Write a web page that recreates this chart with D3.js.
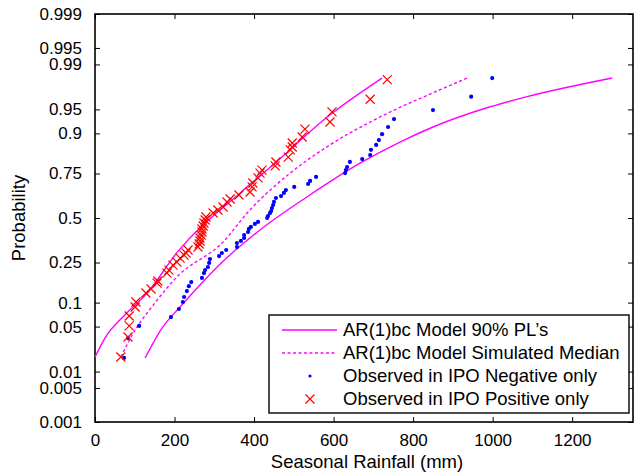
<!DOCTYPE html>
<html>
<head>
<meta charset="utf-8">
<script src="https://cdn.jsdelivr.net/npm/d3@7"></script>
<style>
  html, body { margin: 0; padding: 0; background: #fff; }
  svg { display: block; }
  text { font-family: "Liberation Sans", Arial, Helvetica, sans-serif; fill: #000; }
</style>
</head>
<body>
<div id="chart"></div>
<script>
// ---------------- DATA ----------------
const rainfallTicks = [0, 200, 400, 600, 800, 1000, 1200];
const probTicks = [0.001, 0.005, 0.01, 0.05, 0.1, 0.25, 0.5, 0.75, 0.9, 0.95, 0.99, 0.995, 0.999];
const probTickLabels = ["0.001", "0.005", "0.01", "0.05", "0.1", "0.25", "0.5", "0.75", "0.9", "0.95", "0.99", "0.995", "0.999"];

// AR(1)bc Model 90% prediction limits (upper-left and lower-right curves)
const upperPLRain = [0, 25, 75, 131, 209, 365, 453, 591, 722];
const upperPLProb = [0.0176, 0.0345, 0.071, 0.128, 0.308, 0.648, 0.798, 0.941, 0.983];
const lowerPLRain = [126, 169, 214, 264, 320, 415, 533, 672, 767, 850, 994, 1087, 1301];
const lowerPLProb = [0.017, 0.048, 0.089, 0.155, 0.252, 0.428, 0.625, 0.802, 0.875, 0.916, 0.954, 0.967, 0.983];

// AR(1)bc Model simulated median
const medianRain = [65, 101, 143, 206, 322, 387, 491, 591, 717, 868, 936];
const medianProb = [0.0176, 0.045, 0.089, 0.186, 0.358, 0.542, 0.752, 0.866, 0.937, 0.974, 0.983];

// Observed in IPO Negative only (blue dots)
const negRain = [73, 83, 111, 191, 211, 221, 224, 231, 236, 242, 269, 274, 277, 284, 287, 289, 312, 319, 330, 357,
  357, 367, 375, 375, 385, 387, 392, 402, 410, 433, 435, 440, 443, 445, 448, 450, 455, 468, 475, 480,
  501, 536, 541, 556, 629, 631, 634, 641, 672, 692, 694, 707, 714, 722, 737, 752, 850, 946, 999];
const negProb = [0.017, 0.0345, 0.051, 0.0668, 0.084, 0.1016, 0.1157, 0.134, 0.151, 0.166, 0.182, 0.202, 0.215, 0.229, 0.248, 0.267, 0.282, 0.298, 0.314, 0.330,
  0.352, 0.364, 0.381, 0.398, 0.416, 0.434, 0.446, 0.464, 0.476, 0.500, 0.512, 0.530, 0.542, 0.560, 0.578, 0.596, 0.619, 0.630, 0.648, 0.664,
  0.681, 0.697, 0.713, 0.733, 0.752, 0.766, 0.780, 0.802, 0.814, 0.830, 0.849, 0.866, 0.881, 0.898, 0.916, 0.933, 0.949, 0.967, 0.983];

// Observed in IPO Positive only (red crosses)
const posRain = [65, 83, 86, 86, 101, 103, 128, 141, 156, 158, 181, 186, 196, 206, 214, 224, 229, 234, 259, 262,
  264, 264, 267, 269, 269, 272, 274, 277, 279, 297, 309, 322, 332, 340, 362, 390, 395, 397, 410, 415,
  420, 453, 455, 486, 491, 496, 496, 521, 528, 591, 596, 692, 735];
const posProb = [0.0176, 0.0357, 0.051, 0.0688, 0.0888, 0.1016, 0.128, 0.141, 0.162, 0.170, 0.202, 0.215, 0.238, 0.252, 0.272, 0.287, 0.298, 0.314, 0.330, 0.347,
  0.364, 0.381, 0.398, 0.416, 0.434, 0.452, 0.470, 0.488, 0.506, 0.530, 0.548, 0.566, 0.596, 0.613, 0.636, 0.653, 0.681, 0.702, 0.728, 0.752,
  0.766, 0.785, 0.802, 0.822, 0.849, 0.859, 0.872, 0.890, 0.911, 0.927, 0.946, 0.964, 0.982];

const legendLabels = ["AR(1)bc Model 90% PL\u2019s", "AR(1)bc Model Simulated Median", "Observed in IPO Negative only", "Observed in IPO Positive only"];

// ---------------- HELPERS ----------------
// inverse standard normal CDF (Acklam)
function probit(p) {
  const a = [-3.969683028665376e+01, 2.209460984245205e+02, -2.759285104469687e+02, 1.383577518672690e+02, -3.066479806614716e+01, 2.506628277459239e+00];
  const b = [-5.447609879822406e+01, 1.615858368580409e+02, -1.556989798598866e+02, 6.680131188771972e+01, -1.328068155288572e+01];
  const c = [-7.784894002430293e-03, -3.223964580411365e-01, -2.400758277161838e+00, -2.549732539343734e+00, 4.374664141464968e+00, 2.938163982698783e+00];
  const d = [7.784695709041462e-03, 3.224671290700398e-01, 2.445134137142996e+00, 3.754408661907416e+00];
  const pl = 0.02425, ph = 1 - pl;
  let q, r;
  if (p < pl) {
    q = Math.sqrt(-2 * Math.log(p));
    return (((((c[0]*q+c[1])*q+c[2])*q+c[3])*q+c[4])*q+c[5]) / ((((d[0]*q+d[1])*q+d[2])*q+d[3])*q+1);
  } else if (p <= ph) {
    q = p - 0.5; r = q*q;
    return (((((a[0]*r+a[1])*r+a[2])*r+a[3])*r+a[4])*r+a[5])*q / (((((b[0]*r+b[1])*r+b[2])*r+b[3])*r+b[4])*r+1);
  } else {
    q = Math.sqrt(-2 * Math.log(1 - p));
    return -(((((c[0]*q+c[1])*q+c[2])*q+c[3])*q+c[4])*q+c[5]) / ((((d[0]*q+d[1])*q+d[2])*q+d[3])*q+1);
  }
}
const zip = (xs, ps) => xs.map((x, i) => ({ x, p: ps[i] }));

// ---------------- CHART ----------------
const W = 634, H = 473;
const plot = { left: 95, right: 633, top: 14, bottom: 422 };
const MAGENTA = "#ff00ff";

const svg = d3.select("#chart").append("svg").attr("width", W).attr("height", H);
svg.append("rect").attr("width", W).attr("height", H).attr("fill", "#fff");

const x = d3.scaleLinear().domain([0, 1353]).range([plot.left, plot.right]);
const zScale = d3.scaleLinear().domain([probit(0.001), probit(0.999)]).range([plot.bottom, plot.top]);
const y = p => zScale(probit(p));

const fontTick = 17;

// Axes (bottom / left with labels, top / right mirror ticks)
const tickLen = 5;
const xAxis = d3.axisBottom(x).tickValues(rainfallTicks).tickFormat(d3.format("d")).tickSizeInner(-tickLen).tickSizeOuter(0).tickPadding(12);
const gx = svg.append("g").attr("transform", `translate(0,${plot.bottom})`).call(xAxis);
const xTop = d3.axisTop(x).tickValues(rainfallTicks).tickFormat("").tickSizeInner(-tickLen).tickSizeOuter(0);
const gxt = svg.append("g").attr("transform", `translate(0,${plot.top})`).call(xTop);

const yAxisScale = d3.scaleLinear().domain(zScale.domain()).range(zScale.range());
const yAxis = d3.axisLeft(yAxisScale).tickValues(probTicks.map(probit))
  .tickFormat((d, i) => probTickLabels[i]).tickSizeInner(-tickLen).tickSizeOuter(0).tickPadding(13);
const gy = svg.append("g").attr("transform", `translate(${plot.left},0)`).call(yAxis);
const yRight = d3.axisRight(yAxisScale).tickValues(probTicks.map(probit)).tickFormat("").tickSizeInner(-tickLen).tickSizeOuter(0);
const gyr = svg.append("g").attr("transform", `translate(${plot.right},0)`).call(yRight);

[gx, gxt, gy, gyr].forEach(g => {
  g.select(".domain").remove();
  g.selectAll(".tick line").attr("stroke", "#000").attr("stroke-width", 1);
  g.selectAll("text").attr("font-size", fontTick).attr("font-family", "Liberation Sans, Arial, sans-serif").attr("fill", "#000");
});
gx.selectAll("text").attr("dy", "0.71em");

// Box
svg.append("rect")
  .attr("x", plot.left).attr("y", plot.top)
  .attr("width", plot.right - plot.left).attr("height", plot.bottom - plot.top)
  .attr("fill", "none").attr("stroke", "#000").attr("stroke-width", 1.6);

// Axis titles
svg.append("text").attr("x", (plot.left + plot.right) / 2 + 3).attr("y", 468)
  .attr("text-anchor", "middle").attr("font-size", 18.5).text("Seasonal Rainfall (mm)");
svg.append("text").attr("transform", `translate(25,${(plot.top + plot.bottom) / 2 + 0}) rotate(-90)`)
  .attr("text-anchor", "middle").attr("font-size", 18.5).text("Probability");

const plotG = svg.append("g");
const line = d3.line().x(d => x(d.x)).y(d => y(d.p)).curve(d3.curveMonotoneX);

plotG.append("path").datum(zip(upperPLRain, upperPLProb)).attr("d", line)
  .attr("fill", "none").attr("stroke", MAGENTA).attr("stroke-width", 1.4);
plotG.append("path").datum(zip(lowerPLRain, lowerPLProb)).attr("d", line)
  .attr("fill", "none").attr("stroke", MAGENTA).attr("stroke-width", 1.4);
plotG.append("path").datum(zip(medianRain, medianProb)).attr("d", line)
  .attr("fill", "none").attr("stroke", MAGENTA).attr("stroke-width", 1.4).attr("stroke-dasharray", "3,2.5");

// Blue dots
plotG.selectAll("circle.neg").data(zip(negRain, negProb)).enter().append("circle")
  .attr("class", "neg").attr("cx", d => x(d.x)).attr("cy", d => y(d.p)).attr("r", 2.1).attr("fill", "#0000ff");

// Red crosses
const cs = 4.5;
function cross(g, cx, cy) {
  g.append("path").attr("d", `M${cx - cs},${cy - cs}L${cx + cs},${cy + cs}M${cx - cs},${cy + cs}L${cx + cs},${cy - cs}`)
    .attr("stroke", "#ff0000").attr("stroke-width", 1.2).attr("fill", "none");
}
zip(posRain, posProb).forEach(d => cross(plotG, x(d.x), y(d.p)));

// Legend
const lg = svg.append("g");
lg.append("rect").attr("x", 269).attr("y", 315).attr("width", 360).attr("height", 98)
  .attr("fill", "#fff").attr("stroke", "#000").attr("stroke-width", 1.4);
const rowY = [330, 353, 376, 399];
lg.append("line").attr("x1", 282).attr("x2", 337).attr("y1", rowY[0]).attr("y2", rowY[0])
  .attr("stroke", MAGENTA).attr("stroke-width", 1.4);
lg.append("line").attr("x1", 282).attr("x2", 337).attr("y1", rowY[1]).attr("y2", rowY[1])
  .attr("stroke", MAGENTA).attr("stroke-width", 1.4).attr("stroke-dasharray", "3,2.5");
lg.append("circle").attr("cx", 310).attr("cy", rowY[2]).attr("r", 1.6).attr("fill", "#0000ff");
cross(lg, 310, rowY[3]);
legendLabels.forEach((t, i) => {
  lg.append("text").attr("x", 343).attr("y", rowY[i]).attr("dy", "0.35em")
    .attr("font-size", 18.5).text(t);
});
</script>
</body>
</html>
